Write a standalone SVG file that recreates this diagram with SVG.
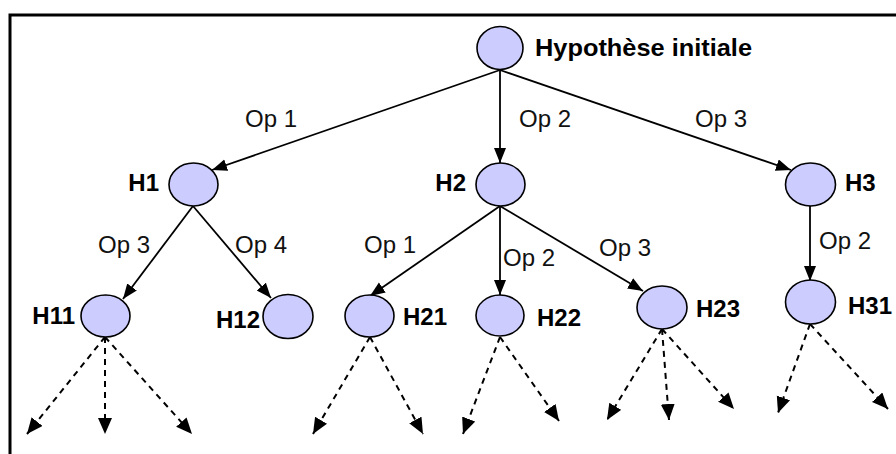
<svg xmlns="http://www.w3.org/2000/svg" width="896" height="454" viewBox="0 0 896 454">
  <style>
    .node { fill: #ccccff; stroke: #000; stroke-width: 1.6; }
    .name { font-family: "Liberation Sans", Arial, sans-serif; font-weight: bold; font-size: 24px; fill: #000; }
    .op { font-family: "Liberation Sans", Arial, sans-serif; font-size: 24px; fill: #111; }
    .edge { stroke: #000; stroke-width: 1.8; fill: none; marker-end: url(#arrow); }
    .branch { stroke: #000; stroke-width: 2; fill: none; stroke-dasharray: 6 5; marker-end: url(#arrowBig); }
  </style>
  <defs>
    <marker id="arrow" markerUnits="userSpaceOnUse" markerWidth="16" markerHeight="14" refX="15" refY="6" orient="auto">
      <path d="M0,0 L15,6 L0,12 z" fill="#000"/>
    </marker>
    <marker id="arrowBig" markerUnits="userSpaceOnUse" markerWidth="17" markerHeight="15" refX="16" refY="7" orient="auto">
      <path d="M0,0 L16,7 L0,14 z" fill="#000"/>
    </marker>
  </defs>

  <rect width="896" height="454" fill="#fff"/>
  <!-- frame -->
  <path d="M10,454 V15 H896" fill="none" stroke="#000" stroke-width="3"/>

  <g id="connectors">
    <line class="edge" x1="500" y1="70" x2="212" y2="170"/>
    <line class="edge" x1="500" y1="70" x2="500" y2="163"/>
    <line class="edge" x1="500" y1="70" x2="791" y2="170"/>
    <line class="edge" x1="193" y1="206" x2="123" y2="299"/>
    <line class="edge" x1="193" y1="206" x2="271" y2="298"/>
    <line class="edge" x1="500" y1="206" x2="370" y2="296"/>
    <line class="edge" x1="500" y1="206" x2="500" y2="295"/>
    <line class="edge" x1="500" y1="206" x2="643" y2="291"/>
    <line class="edge" x1="810" y1="206" x2="810" y2="281"/>

    <line class="branch" x1="105" y1="337" x2="27" y2="434"/>
    <line class="branch" x1="105" y1="337" x2="105" y2="434"/>
    <line class="branch" x1="105" y1="337" x2="192" y2="434"/>
    <line class="branch" x1="370" y1="337" x2="313" y2="434"/>
    <line class="branch" x1="370" y1="337" x2="423" y2="434"/>
    <line class="branch" x1="500" y1="337" x2="463" y2="434"/>
    <line class="branch" x1="500" y1="337" x2="559" y2="421"/>
    <line class="branch" x1="662" y1="329" x2="607" y2="420"/>
    <line class="branch" x1="662" y1="329" x2="669" y2="420"/>
    <line class="branch" x1="662" y1="329" x2="734" y2="409"/>
    <line class="branch" x1="810" y1="324" x2="778" y2="413"/>
    <line class="branch" x1="810" y1="324" x2="888" y2="409"/>

    <text class="op" x="245" y="127">Op 1</text>
    <text class="op" x="519" y="127">Op 2</text>
    <text class="op" x="695" y="127">Op 3</text>
    <text class="op" x="98" y="253">Op 3</text>
    <text class="op" x="235" y="253">Op 4</text>
    <text class="op" x="364" y="253">Op 1</text>
    <text class="op" x="503" y="266">Op 2</text>
    <text class="op" x="599" y="256">Op 3</text>
    <text class="op" x="819" y="249">Op 2</text>
  </g>

  <g id="root">
    <ellipse class="node" cx="500" cy="48" rx="23" ry="21.5"/>
    <text class="name" x="535" y="56" textLength="217" lengthAdjust="spacingAndGlyphs">Hypothèse initiale</text>
  </g>
  <g id="H1">
    <ellipse class="node" cx="193.5" cy="184.5" rx="24.5" ry="21.5"/>
    <text class="name" x="159" y="191" text-anchor="end">H1</text>
  </g>
  <g id="H2">
    <ellipse class="node" cx="500.5" cy="184.5" rx="24.5" ry="21.5"/>
    <text class="name" x="466" y="191" text-anchor="end">H2</text>
  </g>
  <g id="H3">
    <ellipse class="node" cx="810.5" cy="184.5" rx="25" ry="21.5"/>
    <text class="name" x="845" y="191">H3</text>
  </g>
  <g id="H11">
    <ellipse class="node" cx="105.5" cy="316" rx="24.5" ry="21"/>
    <text class="name" x="75" y="324" text-anchor="end">H11</text>
  </g>
  <g id="H12">
    <ellipse class="node" cx="288" cy="316.5" rx="25" ry="22"/>
    <text class="name" x="260" y="328" text-anchor="end">H12</text>
  </g>
  <g id="H21">
    <ellipse class="node" cx="369.5" cy="316" rx="24.5" ry="21"/>
    <text class="name" x="403" y="325">H21</text>
  </g>
  <g id="H22">
    <ellipse class="node" cx="500" cy="315.5" rx="24" ry="20.5"/>
    <text class="name" x="537" y="326">H22</text>
  </g>
  <g id="H23">
    <ellipse class="node" cx="662" cy="307.5" rx="25" ry="21.5"/>
    <text class="name" x="696" y="317">H23</text>
  </g>
  <g id="H31">
    <ellipse class="node" cx="810.5" cy="302" rx="25" ry="22"/>
    <text class="name" x="848" y="314">H31</text>
  </g>
</svg>
